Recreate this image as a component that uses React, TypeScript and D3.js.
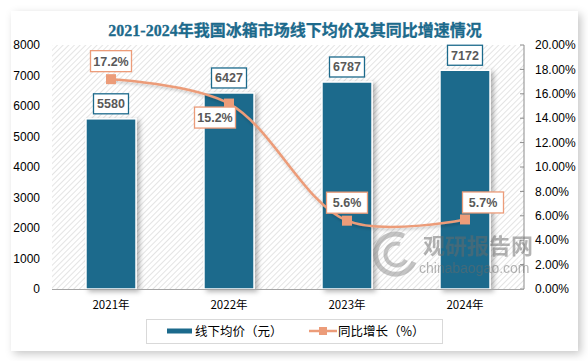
import React from "react";
import * as d3 from "d3";

const years = ["2021年", "2022年", "2023年", "2024年"];
const avgPrice = [5580, 6427, 6787, 7172];
const yoyGrowth = [17.2, 15.2, 5.6, 5.7];
const leftTicks = [0, 1000, 2000, 3000, 4000, 5000, 6000, 7000, 8000];
const rightTicks = [0, 2, 4, 6, 8, 10, 12, 14, 16, 18, 20];
const title = "2021-2024年我国冰箱市场线下均价及其同比增速情况";
const legendBar = "线下均价（元）";
const legendLine = "同比增长（%）";

// label placement offsets relative to markers (layout, not data)
const pctOffsets: [number, number][] = [
  [0, -18],
  [-14, 14],
  [0, -18],
  [18, -17],
];

const W = 588;
const H = 361;
const BLUE = "#1c6a8c";
const ORANGE = "#ec9c79";
const SANS = "'Liberation Sans', 'Noto Sans CJK SC', sans-serif";
const CJK = "'Noto Sans CJK SC', 'Liberation Sans', sans-serif";

export default function App() {
  const plotL = 52, plotR = 524, plotT = 45, plotB = 289;
  const x = d3.scaleBand<string>().domain(years).range([plotL, plotR]).paddingInner(0.576).paddingOuter(0.288);
  const yL = d3.scaleLinear().domain([0, 8000]).range([plotB, plotT]);
  const yR = d3.scaleLinear().domain([0, 20]).range([plotB, plotT]);
  const cx = (i: number) => (x(years[i]) as number) + x.bandwidth() / 2;
  const pts: [number, number][] = yoyGrowth.map((v, i) => [cx(i), yR(v)]);
  const line = d3.line().curve(d3.curveCatmullRom.alpha(0.5))(pts) || "";

  return (
    <svg width={W} height={H} style={{ position: "absolute", left: 0, top: 0 }} xmlns="http://www.w3.org/2000/svg">
      <defs>
        <pattern id="hatch" patternUnits="userSpaceOnUse" width="4" height="4" patternTransform="rotate(45)">
          <rect width="4" height="4" fill="#ffffff" />
          <line x1="0" y1="0" x2="0" y2="4" stroke="#d2d2d2" strokeWidth="1.2" />
        </pattern>
        <filter id="panelShadow" x="-10%" y="-10%" width="120%" height="120%">
          <feDropShadow dx="3" dy="3" stdDeviation="4" floodColor="#000" floodOpacity="0.22" />
        </filter>
        <filter id="barShadow" x="-30%" y="-10%" width="160%" height="120%">
          <feDropShadow dx="3" dy="2" stdDeviation="2.5" floodColor="#000" floodOpacity="0.3" />
        </filter>
        <filter id="lineShadow" x="-10%" y="-10%" width="120%" height="130%">
          <feDropShadow dx="1" dy="2" stdDeviation="1.5" floodColor="#000" floodOpacity="0.2" />
        </filter>
      </defs>
      <rect x={0} y={0} width={W} height={H} fill="#ffffff" />
      <rect x={11} y={11} width={567} height={340} fill="#ffffff" filter="url(#panelShadow)" />

      <text x={295} y={36} textAnchor="middle" fontFamily="'Liberation Serif', 'Noto Sans CJK SC', serif" fontWeight="bold" fontSize={16} fill={BLUE} stroke={BLUE} strokeWidth={0.3}>
        {title}
      </text>

      <rect x={plotL} y={plotT} width={plotR - plotL} height={plotB - plotT} fill="url(#hatch)" />

      {/* left axis labels */}
      {leftTicks.map((t) => (
        <text key={t} x={40} y={yL(t)} dy="0.35em" textAnchor="end" fontFamily={SANS} fontSize={12} fill="#000">
          {t}
        </text>
      ))}

      {/* right axis */}
      <line x1={plotR} x2={plotR} y1={plotT} y2={plotB} stroke="#8c8c8c" strokeWidth={1} />
      {rightTicks.map((t) => (
        <g key={t}>
          <line x1={plotR - 4} x2={plotR} y1={yR(t)} y2={yR(t)} stroke="#8c8c8c" strokeWidth={1} />
          <text x={535} y={yR(t)} dy="0.35em" textAnchor="start" fontFamily={SANS} fontSize={12} fill="#000">
            {t.toFixed(2)}%
          </text>
        </g>
      ))}

      {/* bars */}
      {avgPrice.map((v, i) => (
        <rect
          key={years[i]}
          x={x(years[i])}
          y={yL(v)}
          width={x.bandwidth()}
          height={plotB - yL(v)}
          fill={BLUE}
          stroke="#ffffff"
          strokeWidth={1.5}
          filter="url(#barShadow)"
        />
      ))}

      {/* bottom axis */}
      <line x1={plotL} x2={plotR} y1={plotB + 0.5} y2={plotB + 0.5} stroke="#a6a6a6" strokeWidth={1} />
      {years.map((y, i) => (
        <text key={y} x={cx(i)} y={305} dy="0.35em" textAnchor="middle" fontFamily={CJK} fontSize={11.5} fill="#000">
          {y}
        </text>
      ))}

      {/* watermark */}
      <g opacity={0.5}>
        <path d="M 404 236 A 20 20 0 1 0 414 262" fill="none" stroke="#8a8a8a" strokeWidth={5} />
        <path d="M 400 244 A 11 11 0 1 0 406 260" fill="none" stroke="#8a8a8a" strokeWidth={4} />
        <text x={423} y={254} fontFamily={CJK} fontWeight="bold" fontSize={22} fill="#6a6a6a">观研报告网</text>
        <text x={419} y={273} fontFamily={SANS} fontSize={14} fill="#6a6a6a">chinabaogao.com</text>
      </g>

      {/* line */}
      <path d={line} fill="none" stroke={ORANGE} strokeWidth={2.5} filter="url(#lineShadow)" />
      {pts.map(([px, py], i) => (
        <rect key={i} x={px - 5} y={py - 5} width={10} height={10} fill={ORANGE} />
      ))}

      {/* bar labels */}
      {avgPrice.map((v, i) => {
        const bx = cx(i);
        const by = yL(v) - 5;
        return (
          <g key={"bl" + i}>
            <rect x={bx - 17.5} y={by - 20} width={35} height={20} fill="#fff" stroke={BLUE} strokeWidth={1.3} />
            <text x={bx} y={by - 10} dy="0.36em" textAnchor="middle" fontFamily={SANS} fontWeight="bold" fontSize={12.5} fill="#595959">
              {v}
            </text>
          </g>
        );
      })}

      {/* pct labels */}
      {yoyGrowth.map((v, i) => {
        const [px, py] = pts[i];
        const lx = px + pctOffsets[i][0];
        const ly = py + pctOffsets[i][1];
        return (
          <g key={"pl" + i}>
            <rect x={lx - 20.5} y={ly - 10.5} width={41} height={21} fill="#fff" stroke={ORANGE} strokeWidth={1.3} />
            <text x={lx} y={ly} dy="0.36em" textAnchor="middle" fontFamily={SANS} fontWeight="bold" fontSize={12.5} fill="#595959">
              {v.toFixed(1)}%
            </text>
          </g>
        );
      })}

      {/* legend */}
      <rect x={146.5} y={319.5} width={296} height={24} fill="#fff" stroke="#d9d9d9" strokeWidth={1} />
      <rect x={167} y={328.5} width={25} height={5} fill={BLUE} />
      <text x={195} y={331} dy="0.36em" fontFamily={CJK} fontSize={12.5} fill="#000">{legendBar}</text>
      <line x1={309} x2={337} y1={331} y2={331} stroke={ORANGE} strokeWidth={2.5} />
      <rect x={319} y={327} width={8} height={8} fill={ORANGE} />
      <text x={338} y={331} dy="0.36em" fontFamily={CJK} fontSize={12.5} fill="#000">{legendLine}</text>
    </svg>
  );
}
